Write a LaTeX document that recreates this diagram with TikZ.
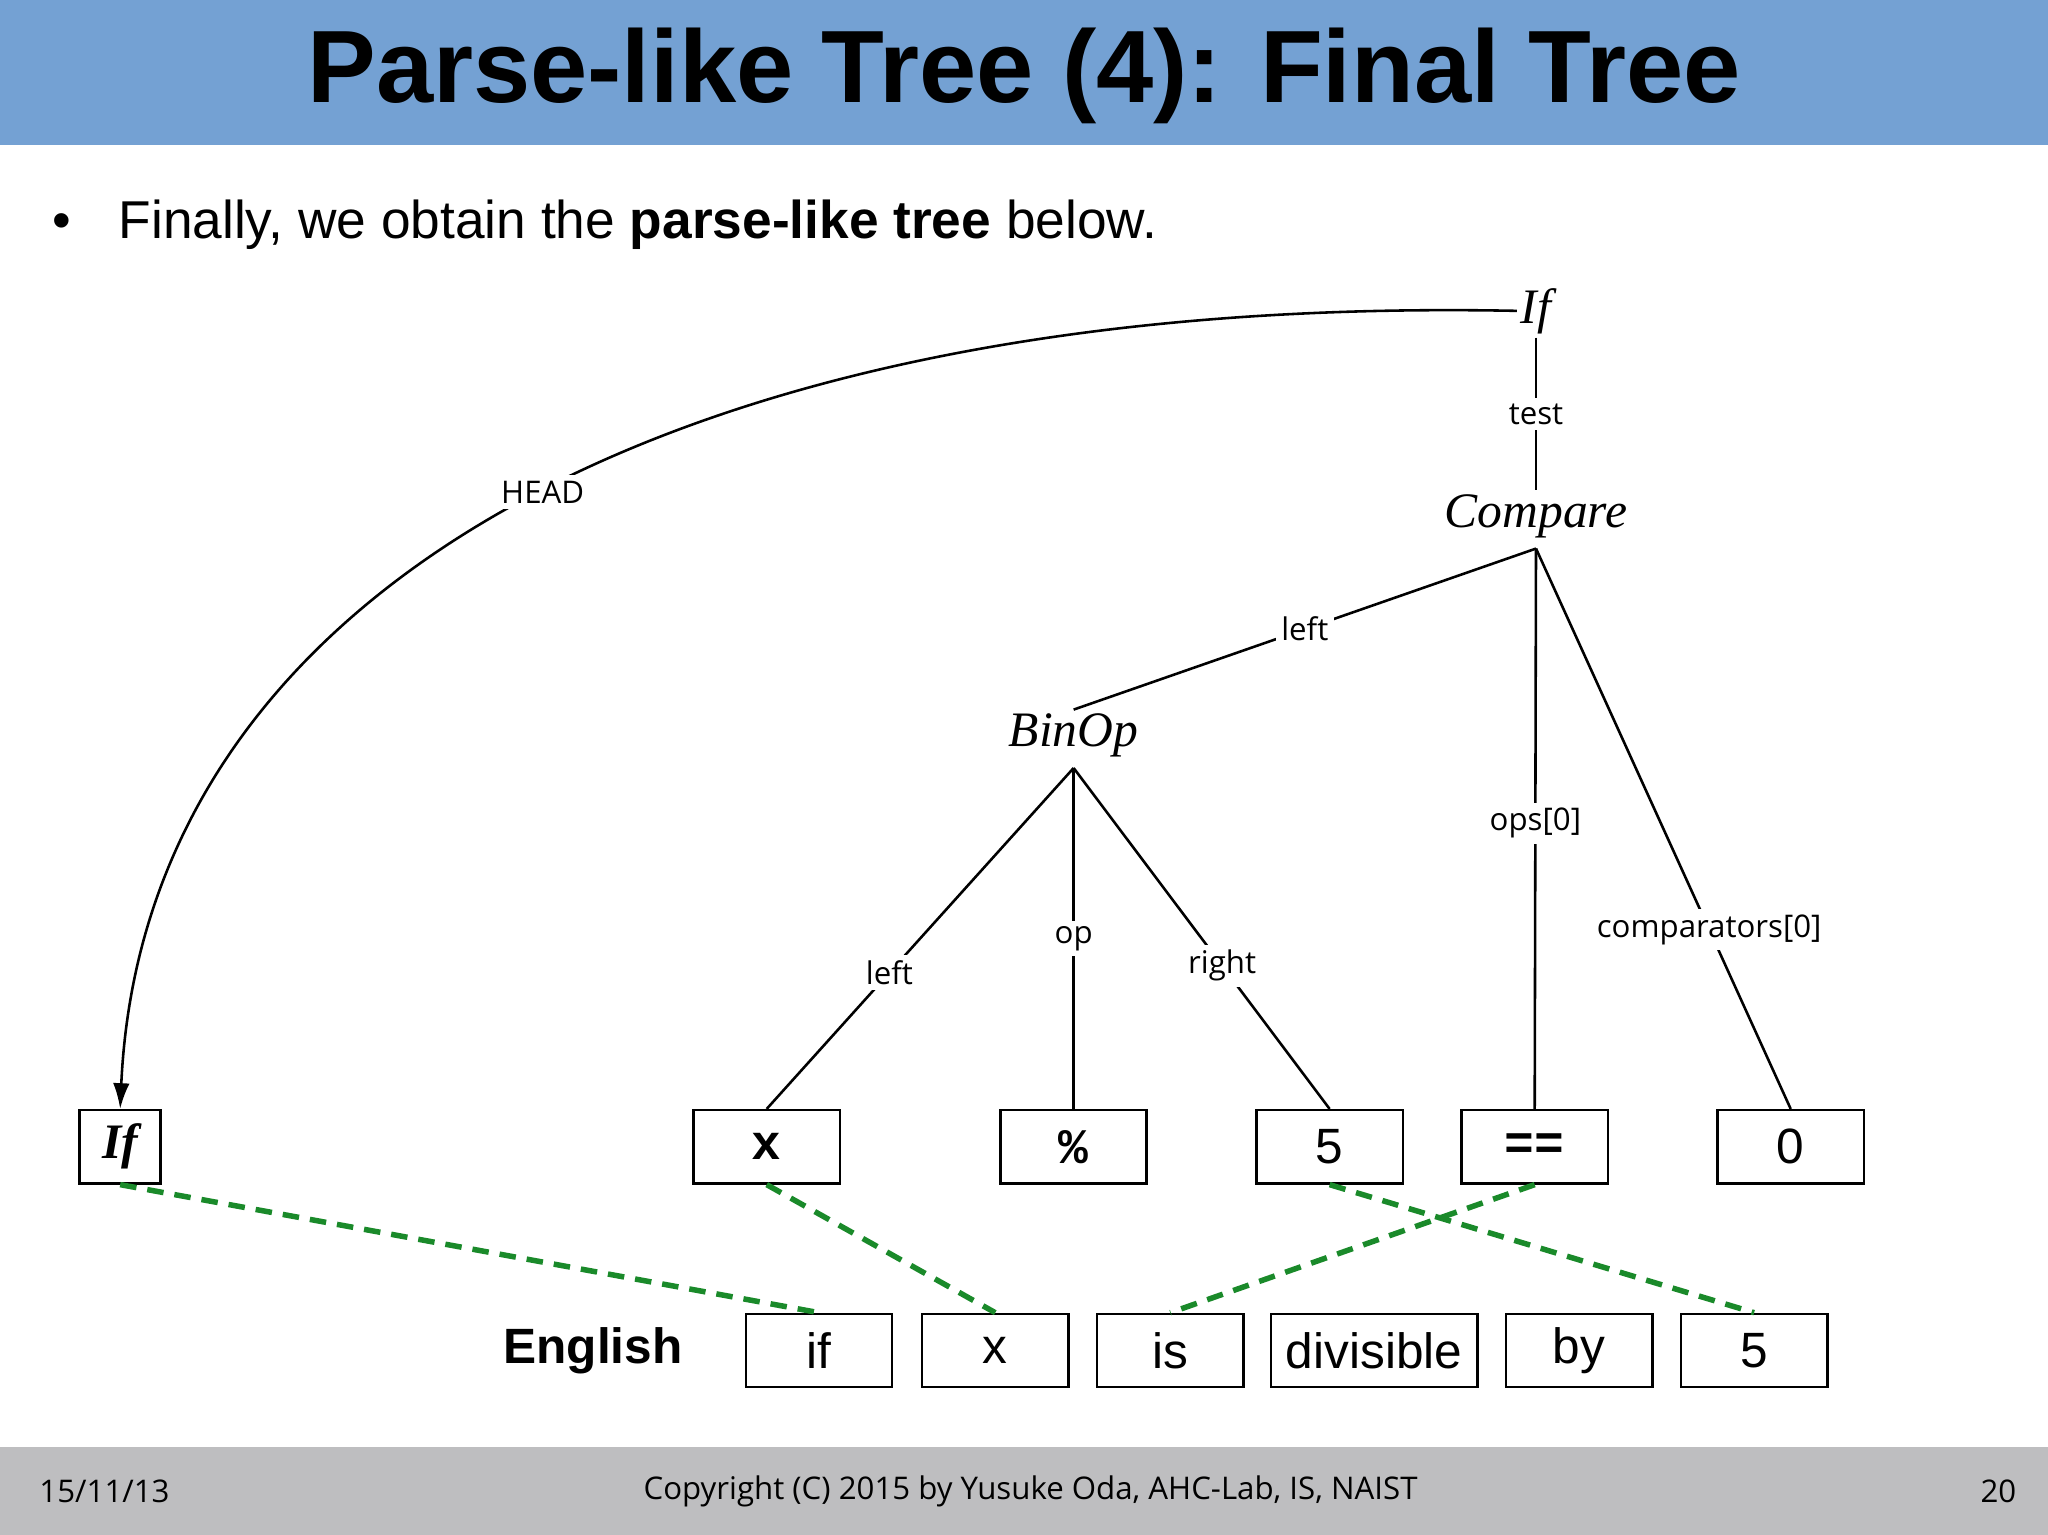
\documentclass[tikz,border=0pt]{standalone}
\usepackage{fontspec}
\usetikzlibrary{arrows.meta}
\setmainfont{Liberation Sans}
\newfontfamily\labfont{Open Sans}
\newfontfamily\serfont{Liberation Serif}
\newfontfamily\monfont{Liberation Mono}
\definecolor{titleblue}{HTML}{74A1D3}
\definecolor{footgray}{HTML}{BEBEC0}
\definecolor{alignGreen}{HTML}{1A8A2A}
\newdimen\pgfxx \pgfxx=0.025cm
\tikzset{
treenode/.style={font=\fontsize{27}{30}\selectfont\serfont\itshape, inner sep=2pt},
edgelab/.style={font=\fontsize{17}{20}\selectfont\labfont, fill=white, inner sep=3pt},
astbox/.style={draw, line width=1.4pt, minimum width=112\pgfxx, minimum height=56\pgfxx,
    inner sep=0pt, font=\fontsize{27}{30}\selectfont},
wordbox/.style={astbox},
treeedge/.style={line width=1.4pt},
alignline/.style={alignGreen, line width=3pt, dash pattern=on 9pt off 6pt}
}
\begin{document}
\begin{tikzpicture}[x=0.025cm,y=-0.025cm]
\useasboundingbox (0,0) rectangle (1568,1175);
% title and footer bands
\fill[titleblue] (0,0) rectangle (1568,111);
\fill[footgray] (0,1108) rectangle (1568,1175);
\node[font=\fontsize{56}{60}\selectfont\bfseries] (title) at (784,58) {Parse-like Tree (4): Final Tree};
\node[anchor=west, font=\fontsize{29}{34}\selectfont] (bullet) at (35,172) {\textbullet\hspace{0.9em}Finally, we obtain the \textbf{parse-like tree} below.};
\node[font=\fontsize{17}{20}\selectfont\labfont] (date) at (80,1142) {15/11/13};
\node[font=\fontsize{17}{20}\selectfont\labfont] (copy) at (789,1142) {Copyright (C) 2015 by Yusuke Oda, AHC-Lab, IS, NAIST};
\node[font=\fontsize{17}{20}\selectfont\labfont] (page) at (1530,1142) {20};

% tree
\node[treenode] (if) at (1176,238) {If};
\node[treenode] (cmp) at (1176,395) {Compare};
\node[treenode] (bin) at (822,563) {BinOp};
\coordinate (cmpb) at (1176,420);
\coordinate (binb) at (822,588);

\node[astbox, minimum width=62\pgfxx, font=\fontsize{27}{30}\selectfont\serfont\bfseries\itshape] (bif) at (92,878) {If};
\node[astbox, font=\fontsize{27}{30}\selectfont\monfont\bfseries] (bx) at (587,878) {x};
\node[astbox, font=\fontsize{27}{30}\selectfont\monfont\bfseries] (bmod) at (822,878) {\%};
\node[astbox] (bfive) at (1018,878) {5};
\node[astbox, font=\fontsize{27}{30}\selectfont\monfont\bfseries] (beq) at (1175,878) {==};
\node[astbox] (bzero) at (1371,878) {0};

% English words
\node[font=\fontsize{27}{30}\selectfont\bfseries] (eng) at (454,1034) {English};
\node[wordbox] (wif) at (627,1034) {if};
\node[wordbox] (wx) at (762,1034) {x};
\node[wordbox] (wis) at (896,1034) {is};
\node[wordbox, minimum width=158\pgfxx] (wdiv) at (1052,1034) {divisible};
\node[wordbox] (wby) at (1209,1034) {by};
\node[wordbox] (wfive) at (1343,1034) {5};

% edges
\draw[treeedge] (if) -- node[edgelab] {test} (cmp);
\draw[treeedge] (cmpb) -- node[edgelab] {left} (bin.north);
\draw[treeedge] (cmpb) -- node[edgelab, pos=0.49] {ops[0]} (beq.north);
\draw[treeedge] (cmpb) -- node[edgelab, pos=0.68] {comparators[0]} (bzero.north);
\draw[treeedge] (binb) -- node[edgelab, pos=0.6] {left} (bx.north);
\draw[treeedge] (binb) -- node[edgelab, pos=0.5] {op} (bmod.north);
\draw[treeedge] (binb) -- node[edgelab, pos=0.58] {right} (bfive.north);
\draw[treeedge, -{Latex[length=14pt,width=9pt]}] (if.west) .. controls (520,225) and (110,450) .. node[edgelab, pos=0.48] {HEAD} (bif.north);

% alignments
\draw[alignline] (bif.south) -- (wif.north);
\draw[alignline] (bx.south) -- (wx.north);
\draw[alignline] (bfive.south) -- (wfive.north);
\draw[alignline] (beq.south) -- (wis.north);
\end{tikzpicture}
\end{document}
